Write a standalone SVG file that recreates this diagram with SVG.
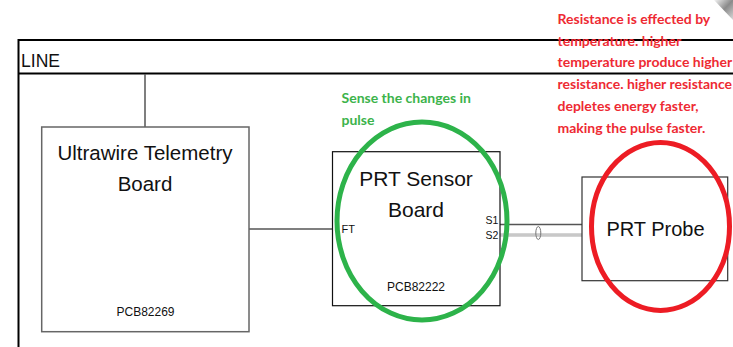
<svg xmlns="http://www.w3.org/2000/svg" width="733" height="347" viewBox="0 0 733 347">
<defs>
<linearGradient id="curl" x1="0" y1="0" x2="1" y2="1">
<stop offset="0" stop-color="#f4f4f4"/>
<stop offset="0.5" stop-color="#8a8a8a"/>
<stop offset="1" stop-color="#d8d8d8"/>
</linearGradient>
</defs>
<style>
.frame{stroke:#000;stroke-width:2;fill:none}
.box{fill:#fff}
.t{font-family:"Liberation Sans",Arial,sans-serif;fill:#111}
.note{font-family:Lato,"Open Sans",sans-serif;font-weight:bold;font-size:14px}
.wire{stroke:#555;stroke-width:1.5;fill:none}
</style>
<rect width="733" height="347" fill="#fff"/>
<polygon points="714,0 733,0 733,20" fill="url(#curl)"/>
<g id="frame">
<line class="frame" x1="18.5" y1="40" x2="733" y2="40"/>
<line class="frame" x1="18.5" y1="73.5" x2="733" y2="73.5"/>
<line class="frame" x1="18.5" y1="39" x2="18.5" y2="347"/>
<text class="t" x="21" y="67" font-size="18.5" textLength="39" lengthAdjust="spacingAndGlyphs">LINE</text>
</g>
<g id="connectors">
<line class="wire" x1="145" y1="74" x2="145" y2="127"/>
<line class="wire" x1="249" y1="229" x2="333" y2="229"/>
<line x1="500" y1="224.5" x2="582" y2="224.5" stroke="#555" stroke-width="1.5"/>
<line x1="500" y1="235" x2="582" y2="235" stroke="#aaa" stroke-width="3"/>
<line x1="500" y1="235" x2="582" y2="235" stroke="#e6e6e6" stroke-width="1"/>
<ellipse cx="538.3" cy="233" rx="2.5" ry="6.5" fill="none" stroke="#777" stroke-width="1"/>
</g>
<g id="telemetry">
<rect class="box" x="41.7" y="127" width="207.3" height="204.7" stroke="#666" stroke-width="1.5"/>
<text class="t" x="145" y="160" font-size="20.5" text-anchor="middle">Ultrawire Telemetry</text>
<text class="t" x="145" y="191" font-size="20.5" text-anchor="middle">Board</text>
<text class="t" x="145.5" y="316" font-size="12" text-anchor="middle" fill="#222">PCB82269</text>
</g>
<g id="prt-sensor">
<rect class="box" x="332.5" y="151.7" width="167.5" height="154" stroke="#111" stroke-width="1.2"/>
<text class="t" x="416" y="186" font-size="21" text-anchor="middle">PRT Sensor</text>
<text class="t" x="416" y="217" font-size="21" text-anchor="middle">Board</text>
<text class="t" x="341.5" y="233" font-size="11" fill="#2a2a55">FT</text>
<text class="t" x="485.5" y="224" font-size="10.5">S1</text>
<text class="t" x="485.5" y="239" font-size="10.5">S2</text>
<text class="t" x="416" y="291" font-size="12" text-anchor="middle" fill="#222">PCB82222</text>
</g>
<g id="prt-probe">
<rect class="box" x="582" y="177" width="145.7" height="103.7" stroke="#333" stroke-width="1.2"/>
<text class="t" x="655.5" y="236" font-size="20" text-anchor="middle">PRT Probe</text>
</g>
<g id="green-highlight">
<ellipse cx="422" cy="221" rx="85" ry="99" fill="none" stroke="#2db34a" stroke-width="5"/>
<text class="note" fill="#3cb34b" x="341.5" y="103">Sense the changes in</text>
<text class="note" fill="#3cb34b" x="341.5" y="125">pulse</text>
</g>
<g id="red-highlight">
<ellipse cx="660.5" cy="226.5" rx="69" ry="84" fill="none" stroke="#ed1c24" stroke-width="5"/>
<g class="note" fill="#ee2a33">
<text x="557.5" y="24">Resistance is effected by</text>
<text x="557.5" y="45.7">temperature. higher</text>
<text x="557.5" y="67.4">temperature produce higher</text>
<text x="557.5" y="89">resistance. higher resistance</text>
<text x="557.5" y="110.8">depletes energy faster,</text>
<text x="557.5" y="132.5">making the pulse faster.</text>
</g>
</g>
</svg>
